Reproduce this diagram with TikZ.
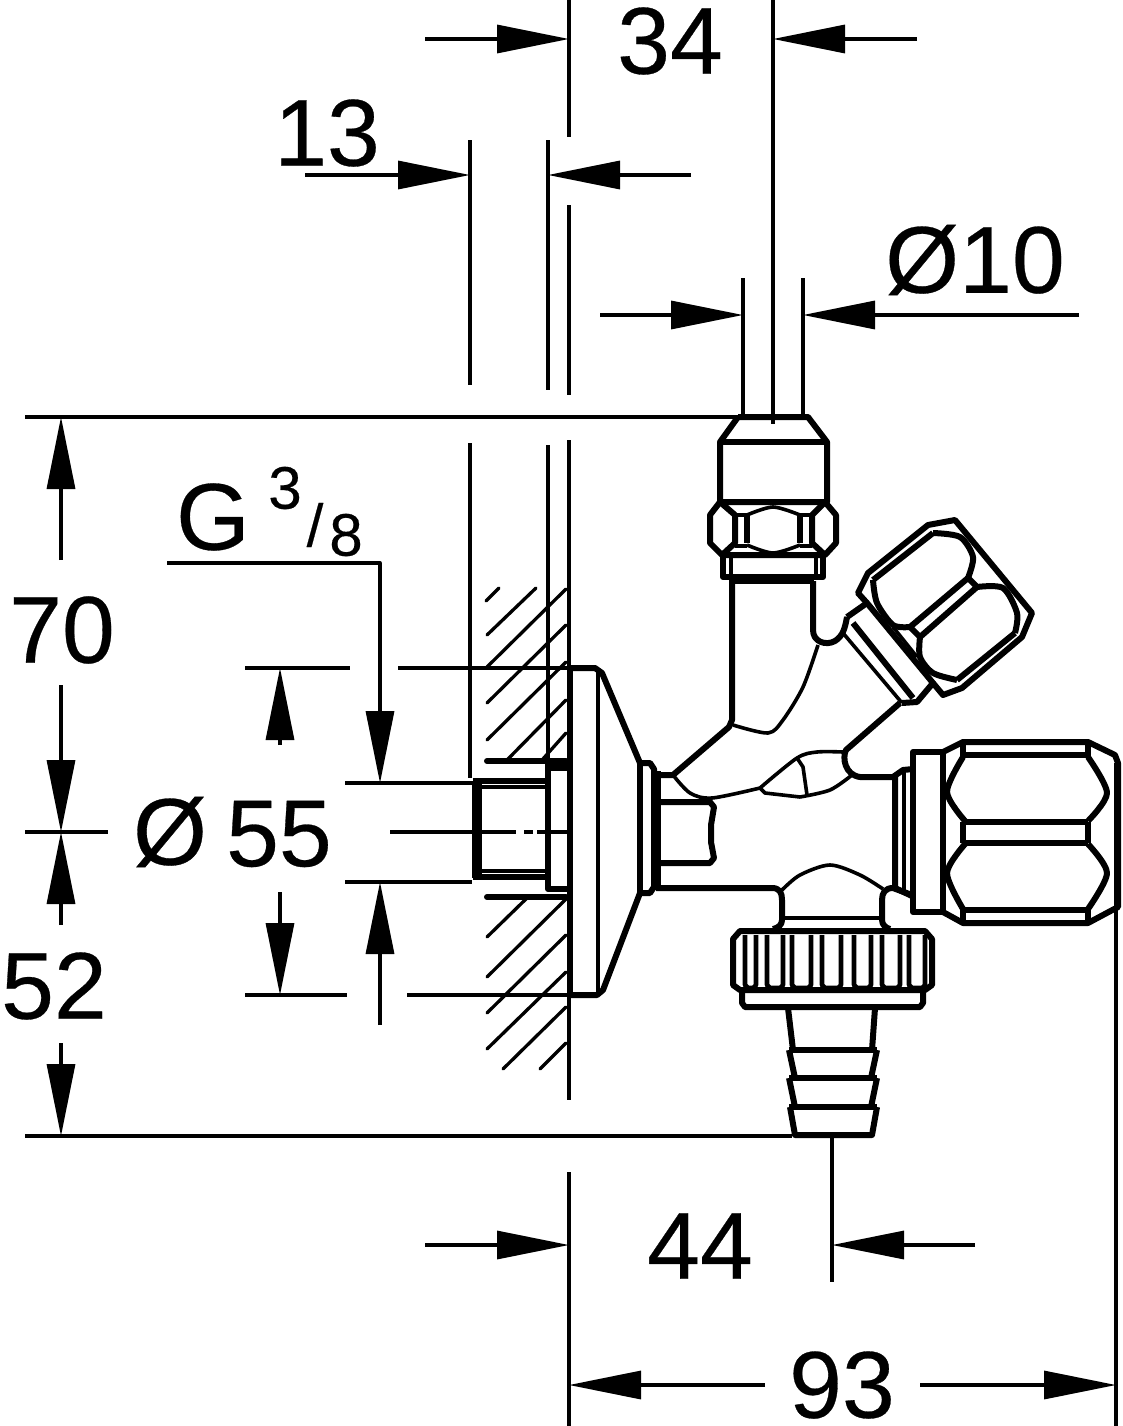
\documentclass[tikz,border=0pt]{standalone}
\usepackage{fontspec}
\setmainfont{Liberation Sans}
\usepackage{tikz}
\usetikzlibrary{arrows.meta,positioning}

\begin{document}
\begin{tikzpicture}[x=1pt,y=-1pt,line join=round]
	\tikzstyle{Num}   = [inner sep=0pt, font=\fontsize{95}{95}\selectfont\addfontfeatures{FakeBold=0.3}]
	\tikzstyle{Small} = [inner sep=0pt, font=\fontsize{60}{60}\selectfont\addfontfeatures{FakeBold=0.3}]
	\tikzstyle{Ext}   = [line width=3.3pt]
	\tikzstyle{Dim}   = [line width=3.3pt, -{Triangle[length=72pt,width=28pt]}]
	\tikzstyle{Hatch} = [line width=3.3pt]
	\tikzstyle{Part}  = [line width=6pt]
	\tikzstyle{Fine}  = [line width=3.6pt]
	\tikzstyle{Tooth} = [line width=4.6pt]

	\useasboundingbox (0,0) rectangle (1122,1426);

	% labels
	\node (n34) at (670,41) [Num] {34};
	\node (n13) at (327,133) [Num] {13};
	\node (n10) at (975,260) [Num] {Ø10};
	\node (n70) at (62,630) [Num] {70};
	\node (n52) at (54,986) [Num] {52};
	\node (nDia) at (170,832) [Num] {Ø};
	\node (n55) at (279,834) [Num] {55};
	\node (nG) at (213,517) [Num] {G};
	\node (nG3) at (285,488) [Small] {3};
	\node (nGs) at (315,525) [Small] {/};
	\node (nG8) at (346,535) [Small] {8};
	\node (n44) at (700,1246) [Num] {44};
	\node (n93) at (842,1385) [Num] {93};

	% extension lines
	\draw[Ext] (569,0) -- (569,137) (569,205) -- (569,395) (569,440) -- (569,1100) (569,1172) -- (569,1426);
	\draw[Ext] (773,0) -- (773,424);
	\draw[Ext] (470,140) -- (470,385) (470,443) -- (470,778);
	\draw[Ext] (548,140) -- (548,390) (548,445) -- (548,760);
	\draw[Ext] (743,278) -- (743,417) (803,278) -- (803,417);
	\draw[Ext] (25,417) -- (738,417);
	\draw[Ext] (25,832) -- (108,832);
	\draw[Ext] (25,1136) -- (792,1136);
	\draw[Ext] (245,668) -- (350,668) (398,668) -- (570,668);
	\draw[Ext] (245,995) -- (347,995) (407,995) -- (570,995);
	\draw[Ext] (345,783) -- (472,783) (345,882) -- (472,882);
	\draw[Ext] (390,832) -- (516,832) (524,832) -- (533,832) (537,832) -- (569,832);
	\draw[Ext] (832,1132) -- (832,1282);
	\draw[Ext] (1116,763) -- (1116,1426);

	% dimension arrows
	\draw[Dim] (425,39) -- (569,39);
	\draw[Dim] (917,39) -- (773,39);
	\draw[Dim] (305,175) -- (470,175);
	\draw[Dim] (691,175) -- (548,175);
	\draw[Dim] (600,315) -- (743,315);
	\draw[Dim] (1079,315) -- (803,315);
	\draw[Dim] (61,560) -- (61,417);
	\draw[Dim] (61,685) -- (61,832);
	\draw[Dim] (61,925) -- (61,832);
	\draw[Dim] (61,1043) -- (61,1136);
	\draw[Dim] (280,745) -- (280,668);
	\draw[Dim] (280,892) -- (280,995);
	\draw[Dim] (167,563) -| (380,783);
	\draw[Dim] (380,1025) -- (380,882);
	\draw[Dim] (425,1245) -- (569,1245);
	\draw[Dim] (975,1245) -- (832,1245);
	\draw[Dim] (765,1385) -- (569,1385);
	\draw[Dim] (920,1385) -- (1116,1385);

	% hatching
	\foreach \xa/\ya/\xb/\yb in {486/601/499/588,487/635/536/588,487/667/566/589,487/703/566/625,487/740/566/662,507/760/566/700,542/760/566/733,487/937/527/898,487/977/566/899,487/1013/566/935,487/1049/566/972,503/1069/566/1007,540/1069/566/1043}
		\draw[Hatch,line cap=round] (\xa,\ya) -- (\xb,\yb);
	\draw[Part,line cap=round] (487,761) -- (566,761) (487,897) -- (566,897);

	% wall nipple and rosette
	\fill (548,760) rectangle (571,771);
	\draw[line width=10pt] (477,781) -- (477,878);
	\draw[Part] (473,781) -- (548,781) (473,877) -- (548,877);
	\draw[Ext] (478,787) -- (548,787) (478,871) -- (548,871);
	\draw[Part] (548,762) -- (548,889) -- (569,889);
	\draw[Part] (570,668) -- (570,995);
	\draw[Part] (570,668) -- (595,668) -- (602,673) -- (640,763);
	\draw[Part] (570,995) -- (597,995) -- (603,990) -- (640,893);
	\draw[Ext] (598,672) -- (598,992);
	\draw[Part] (640,763) -- (640,893);
	\draw[Part] (640,763) -- (650,763) -- (654,769) -- (654,887) -- (650,893) -- (640,893);
	\draw[Fine] (659,771) -- (659,888);

	% inner stem
	\draw[Part] (656,802) -- (710,802) -- (714,807) -- (711,825) -- (711,842) -- (714,858) -- (710,863) -- (656,863);

	% body
	\draw[Part] (656,775) -- (673,775) -- (729,727) -- (732,720) -- (732,580);
	\draw[Part] (656,888) -- (772,888) .. controls (780,888) and (782,893) .. (782,900) -- (782,920) .. controls (782,925) and (778,928) .. (773,929);
	\draw[Part] (813,581) -- (813,630) .. controls (813,642) and (826,646) .. (835,641) .. controls (843,636) and (845,628) .. (847,617);
	\draw[Fine] plot[smooth] coordinates {(818,645) (803,687) (783,720) (768,733) (733,725)};
	\draw[Fine] plot[smooth] coordinates {(673,775) (690,793) (712,798) (760,788)};
	\draw[Fine] plot[smooth] coordinates {(760,788) (797,758) (817,752) (843,752)};
	\draw[Fine] (760,788) -- (765,793) -- (800,797);
	\draw[Fine] plot[smooth] coordinates {(800,797) (830,790) (852,775)};
	\draw[Fine] (797,758) -- (803,767) -- (807,795);
	\draw[Part] (900,703) -- (846,750) .. controls (842,758) and (845,775) .. (860,777) -- (893,777);

	% top nut
	\draw[Part] (738,417) -- (808,417) -- (827,442) -- (827,502) -- (720,502) -- (720,442) -- (738,417);
	\draw[Part] (720,442) -- (827,442);
	\draw[Part] (720,502) -- (710,515) -- (710,543) -- (722,555) -- (825,555) -- (836,543) -- (836,515) -- (825,502);
	\draw[Part] (720,502) -- (735,515) -- (735,543) -- (722,555);
	\draw[Part] (825,502) -- (812,515) -- (812,543) -- (825,555);
	\draw[Part] (747,515) -- (747,543) (800,515) -- (800,543);
	\draw[Fine] (735,515) -- (747,515) (800,515) -- (812,515) (735,546) -- (747,546) (800,546) -- (812,546);
	\draw[Fine] plot[smooth] coordinates {(747,515) (773,507) (800,515)};
	\draw[Fine] plot[smooth] coordinates {(747,545) (773,553) (800,545)};
	\draw[Part] (723,555) -- (723,577) -- (823,577) -- (823,555);
	\draw[Fine] (731,556) -- (731,576) (816,556) -- (816,576) (731,582) -- (814,582);

	% branch nut
	\draw[Part] (847,617) -- (867,603) -- (933,683) -- (917,702) -- (902,703);
	\draw[Fine] (902,703) -- (843,633) -- (847,617);
	\draw[Part] (853,623) -- (913,698);
	\draw[Part] (867,603) -- (858,593) -- (868,573) -- (928,525) -- (955,520) -- (1032,613) -- (1022,637) -- (962,688) -- (943,695) -- (933,683);
	\draw[Part] plot[smooth] coordinates {(873,580) (877,603) (893,625) (910,627)};
	\draw[Part] (910,627) -- (968,578);
	\draw[Part] plot[smooth] coordinates {(933,533) (960,537) (973,557) (968,578)};
	\draw[Part] (873,580) -- (933,533);
	\draw[Part] (920,637) -- (977,587);
	\draw[Part] plot[smooth] coordinates {(977,587) (1003,588) (1017,613) (1015,633)};
	\draw[Part] (1015,633) -- (957,680);
	\draw[Part] plot[smooth] coordinates {(957,680) (933,673) (920,657) (920,637)};
	\draw[Part] (910,627) -- (920,637) (968,578) -- (977,587);
	\draw[Fine] (893,627) -- (917,657);

	% right nut
	\draw[Part] (893,777) -- (903,770) -- (913,769);
	\draw[Part] (895,777) -- (895,888) -- (912,896);
	\draw[Fine] (904,771) -- (904,892);
	\draw[Part] (913,752) rectangle (943,912);
	\draw[Part] (943,752) -- (963,742) -- (1088,742) -- (1115,755) -- (1118,763) -- (1118,907) -- (1088,923) -- (963,923) -- (943,912);
	\draw[Part] (963,742) -- (963,758) (1088,742) -- (1088,758);
	\draw[Part] (963,822) -- (963,843) (1088,822) -- (1088,843);
	\draw[Part] (963,908) -- (963,923) (1088,908) -- (1088,923);
	\draw[Part] (963,755) -- (1088,755) (963,822) -- (1088,822) (963,843) -- (1088,843) (963,910) -- (1088,910);
	\draw[Part] plot[smooth] coordinates {(963,757) (947,792) (965,821)};
	\draw[Part] plot[smooth] coordinates {(1088,757) (1107,793) (1088,821)};
	\draw[Part] plot[smooth] coordinates {(965,844) (947,873) (963,909)};
	\draw[Part] plot[smooth] coordinates {(1088,844) (1107,873) (1088,909)};

	% bonnet
	\draw[Fine] plot[smooth] coordinates {(782,890) (800,875) (830,865) (860,875) (883,889)};
	\draw[Fine] (782,918) -- (882,918);
	\draw[Part] (912,895) -- (893,888) .. controls (885,888) and (882,893) .. (882,900) -- (882,920) .. controls (882,925) and (886,928) .. (890,929);

	% knurled ring
	\draw[Part] (740,931) -- (925,931) -- (932,939) -- (932,985) -- (925,990) -- (740,990) -- (733,985) -- (733,939) -- cycle;
	\draw[Part] (742,990) -- (742,1003) -- (745,1007) -- (920,1007) -- (923,1003) -- (923,990);
	\foreach \xa/\xb in {745/756,767/783,792/811,822/841,854/871,882/900,909/925}
		\draw[Tooth] (\xa,935) -- (\xa,985) -- (\xa+3,988) -- (\xb-3,988) -- (\xb,985) -- (\xb,935);

	% hose tail
	\draw[Part] (788,1008) -- (793,1050) (875,1008) -- (872,1050);
	\draw[Part] (789,1050) -- (877,1050) (789,1078) -- (877,1078) (789,1107) -- (877,1107);
	\draw[Part] (789,1050) -- (795,1078) (877,1050) -- (871,1078) (789,1078) -- (795,1107) (877,1078) -- (871,1107);
	\draw[Part] (790,1107) -- (795,1135) -- (872,1135) -- (877,1107);
\end{tikzpicture}
\end{document}
